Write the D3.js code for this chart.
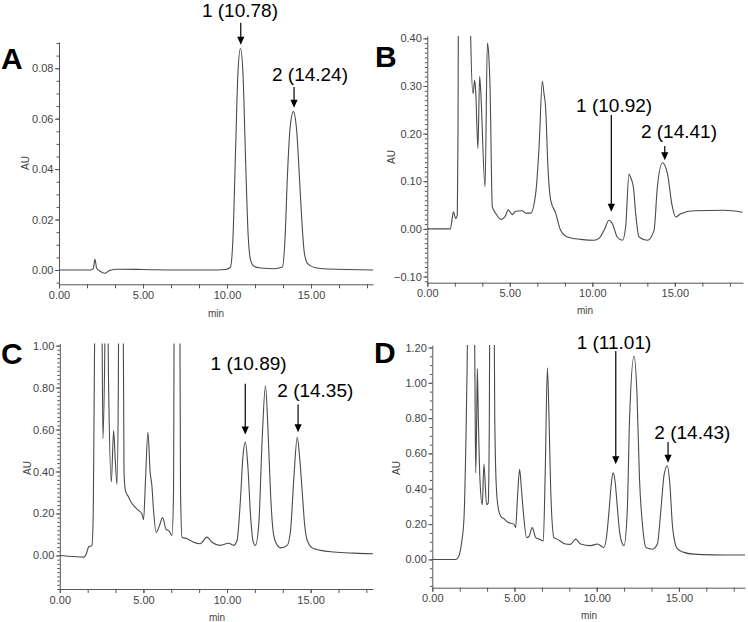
<!DOCTYPE html>
<html><head><meta charset="utf-8">
<script src="https://cdn.jsdelivr.net/npm/d3@7"></script>
<style>
body{margin:0;background:#fff}
svg{display:block}
text{font-family:"Liberation Sans",Arial,Helvetica,sans-serif}
</style>
</head><body>
<svg id="chart" width="748" height="622"></svg>
<script>
// ---- data: [time (min), absorbance (AU)] ----
const traceA = [[0,0],[1.9,0],[2.04,0.0005],[2.14,0.0042],[2.24,0.0008],[2.45,-0.0005],[2.74,-0.0013],[3.0,-0.0002],[3.5,0.0003],[5,0.0002],[7,0],[9,0],[9.9,0.0002],[10.2,0.001],[10.35,0.012],[10.5,0.045],[10.65,0.078],[10.8,0.0878],[10.95,0.078],[11.1,0.045],[11.25,0.015],[11.4,0.004],[11.6,0.0015],[12,0.0008],[12.8,0.0005],[13.3,0.0012],[13.45,0.012],[13.6,0.038],[13.75,0.056],[13.95,0.0628],[14.15,0.055],[14.3,0.038],[14.45,0.02],[14.6,0.007],[14.8,0.0025],[15.2,0.001],[16,0.0004],[18.7,0]];

const traceB = [[0,0],[1.4,0],[1.5,0.02],[1.58,0.036],[1.72,0.022],[1.82,0.03],[1.86,0.2],[1.9,0.6],[2.6,0.6],[2.63,0.40],[2.77,0.284],[2.87,0.312],[2.93,0.29],[3.07,0.169],[3.17,0.32],[3.23,0.294],[3.5,0.088],[3.64,0.39],[3.74,0.355],[3.8,0.3],[3.94,0.046],[4.14,0.033],[4.45,0.02],[4.7,0.025],[4.91,0.04],[5.15,0.03],[5.35,0.037],[5.76,0.038],[5.96,0.033],[6.26,0.033],[6.57,0.075],[6.77,0.17],[6.97,0.31],[7.07,0.284],[7.17,0.255],[7.31,0.13],[7.48,0.06],[7.78,0.033],[8.08,-0.003],[8.49,-0.017],[9.29,-0.022],[10.1,-0.024],[10.4,-0.02],[10.71,-0.003],[11.01,0.018],[11.21,0.011],[11.51,-0.017],[11.82,-0.024],[12.02,0.004],[12.22,0.115],[12.32,0.108],[12.49,0.087],[12.63,0.031],[12.83,-0.017],[13.34,-0.024],[13.74,-0.003],[13.94,0.088],[14.25,0.139],[14.55,0.116],[14.85,0.046],[15.05,0.025],[15.36,0.032],[16.17,0.038],[17.98,0.039],[19.1,0.035]];

const traceC = [[0,0],[0.8,-0.005],[1.45,-0.008],[1.6,0.01],[1.72,0.04],[1.92,0.047],[2.0,0.2],[2.06,0.8],[2.12,1.3],[2.5,1.3],[2.58,0.556],[2.68,0.9],[2.74,1.3],[2.84,1.3],[2.92,0.8],[3.08,0.35],[3.22,0.595],[3.32,0.45],[3.42,0.34],[3.5,0.8],[3.53,1.3],[3.78,1.3],[3.84,0.4],[3.92,0.31],[4.1,0.28],[4.3,0.25],[4.5,0.23],[4.7,0.215],[4.9,0.2],[5.01,0.17],[5.12,0.35],[5.27,0.587],[5.4,0.4],[5.51,0.33],[5.6,0.22],[5.77,0.11],[5.95,0.14],[6.15,0.18],[6.35,0.125],[6.55,0.115],[6.71,0.095],[6.8,0.3],[6.85,1.3],[7.17,1.3],[7.22,0.3],[7.31,0.087],[7.61,0.08],[8.0,0.063],[8.4,0.056],[8.8,0.087],[9.1,0.063],[9.6,0.048],[10.1,0.058],[10.4,0.048],[10.6,0.071],[10.8,0.262],[10.95,0.47],[11.1,0.54],[11.25,0.42],[11.4,0.2],[11.55,0.071],[11.7,0.048],[11.9,0.15],[12.1,0.55],[12.3,0.808],[12.45,0.6],[12.6,0.3],[12.75,0.12],[12.9,0.065],[13.2,0.036],[13.6,0.048],[13.8,0.12],[14.0,0.373],[14.2,0.563],[14.35,0.46],[14.5,0.3],[14.65,0.14],[14.8,0.071],[15.1,0.036],[15.6,0.024],[16.4,0.016],[17.6,0.011],[18.75,0.008]];

const traceD = [[0,0],[1.4,0],[1.52,0.005],[1.62,0.02],[1.77,0.087],[1.93,0.237],[2.05,0.7],[2.12,1.1],[2.17,1.5],[2.5,1.5],[2.58,1.2],[2.64,0.49],[2.7,0.8],[2.74,1.08],[2.8,0.8],[2.9,0.45],[3.04,0.31],[3.14,0.54],[3.3,0.31],[3.4,0.32],[3.47,0.8],[3.5,1.5],[3.75,1.5],[3.8,0.8],[3.9,0.40],[4.03,0.28],[4.2,0.24],[4.36,0.23],[4.6,0.21],[4.97,0.2],[5.07,0.18],[5.18,0.35],[5.31,0.51],[5.42,0.4],[5.53,0.275],[5.74,0.124],[5.88,0.13],[6.08,0.18],[6.29,0.124],[6.5,0.115],[6.75,0.105],[6.87,0.5],[7.0,1.085],[7.1,0.8],[7.2,0.40],[7.4,0.124],[7.6,0.115],[8.1,0.087],[8.4,0.085],[8.72,0.115],[9.02,0.087],[9.63,0.078],[10.04,0.087],[10.44,0.068],[10.6,0.13],[10.75,0.275],[10.9,0.44],[11.0,0.49],[11.12,0.44],[11.25,0.3],[11.4,0.15],[11.55,0.09],[11.66,0.078],[11.86,0.275],[12.0,0.8],[12.27,1.151],[12.45,0.935],[12.6,0.463],[12.8,0.18],[13.0,0.068],[13.4,0.058],[13.69,0.087],[13.9,0.275],[14.1,0.48],[14.3,0.53],[14.45,0.425],[14.6,0.2],[14.8,0.08],[14.94,0.058],[15.3,0.04],[15.9,0.03],[17.1,0.026],[19.1,0.025]];

// peak annotations: label, arrow time, arrow tail & tip (AU), label position (time, AU)
const notesA = [
  {label:"1 (10.78)", t:10.82, tail:0.098, tip:0.0893, tx:10.77, ty:0.103},
  {label:"2 (14.24)", t:13.99, tail:0.0726, tip:0.0643, tx:14.94, ty:0.0774}
];
const notesB = [
  {label:"1 (10.92)", t:11.15, tail:0.239, tip:0.036, tx:11.32, ty:0.26},
  {label:"2 (14.41)", t:14.39, tail:0.174, tip:0.144, tx:15.25, ty:0.204}
];
const notesC = [
  {label:"1 (10.89)", t:11.09, tail:0.818, tip:0.576, tx:11.29, ty:0.913},
  {label:"2 (14.35)", t:14.25, tail:0.719, tip:0.587, tx:15.28, ty:0.786}
];
const notesD = [
  {label:"1 (11.01)", t:11.16, tail:1.18, tip:0.539, tx:11.05, ty:1.227},
  {label:"2 (14.43)", t:14.34, tail:0.665, tip:0.548, tx:15.82, ty:0.718}
];

// axis tick values
const xTickLabels = [0, 5, 10, 15];
const yTicksA = [0, 0.02, 0.04, 0.06, 0.08];
const yTicksB = [-0.10, 0, 0.10, 0.20, 0.30, 0.40];
const yTicksC = [0, 0.20, 0.40, 0.60, 0.80, 1.00];
const yTicksD = [0, 0.20, 0.40, 0.60, 0.80, 1.00, 1.20];

// ---- layout ----
const panels = [
  {letter:"A", trace:traceA, notes:notesA, yTicks:yTicksA, minor:0.005,
   box:{l:59, t:42, r:373, b:284.3}, xMax:18.69, yDom:[-0.00567, 0.0904],
   letterPos:[1,68.5], auPos:[25,163], minPos:[216,313]},
  {letter:"B", trace:traceB, notes:notesB, yTicks:yTicksB, minor:0.01,
   box:{l:427.3, t:36, r:743, b:282.7}, xMax:19.13, yDom:[-0.113, 0.405],
   letterPos:[375,67], auPos:[391,157], minPos:[585,310]},
  {letter:"C", trace:traceC, notes:notesC, yTicks:yTicksC, minor:0.02,
   box:{l:59.8, t:343.5, r:373, b:589}, xMax:18.73, yDom:[-0.16, 1.01],
   letterPos:[1,364], auPos:[27,468], minPos:[217,617]},
  {letter:"D", trace:traceD, notes:notesD, yTicks:yTicksD, minor:0.05,
   box:{l:432.3, t:345, r:745, b:587.7}, xMax:19.02, yDom:[-0.16, 1.214],
   letterPos:[374,363], auPos:[396,468], minPos:[589,615]}
];

const svg = d3.select("#chart");
const axisColor = "#555";
const fmt = d3.format(".2f");

panels.forEach((p, i) => {
  const b = p.box;
  const x = d3.scaleLinear().domain([0, p.xMax]).range([b.l, b.r]);
  const y = d3.scaleLinear().domain(p.yDom).range([b.b, b.t]);
  const g = svg.append("g");

  // clip
  const cid = "clip" + i;
  svg.append("clipPath").attr("id", cid).append("rect")
    .attr("x", b.l).attr("y", b.t).attr("width", b.r - b.l).attr("height", b.b - b.t);

  // x axis: ticks every 5/3 min, labels at 0,5,10,15
  const xMinor = d3.range(0, p.xMax + 1e-6, 5/3);
  const xa = g.append("g").attr("transform", `translate(0,${b.b})`)
    .call(d3.axisBottom(x).tickValues(xMinor).tickSize(4).tickSizeOuter(0).tickFormat(""));
  xa.select(".domain").attr("stroke", axisColor);
  xa.selectAll(".tick line").attr("stroke", axisColor);
  const xl = g.append("g").attr("transform", `translate(0,${b.b})`)
    .call(d3.axisBottom(x).tickValues(xTickLabels).tickSize(4).tickSizeOuter(0).tickPadding(3).tickFormat(fmt));
  xl.select(".domain").remove();
  xl.selectAll(".tick line").attr("stroke", axisColor);
  xl.selectAll("text").attr("font-size", 11).attr("fill", "#444").attr("font-family", '"Liberation Sans",Arial,sans-serif');

  // y axis: minor + labelled
  const lo = Math.ceil(p.yDom[0] / p.minor - 1e-6) * p.minor;
  const yMinor = d3.range(lo, p.yDom[1] + 1e-9, p.minor);
  const ya = g.append("g").attr("transform", `translate(${b.l},0)`)
    .call(d3.axisLeft(y).tickValues(yMinor).tickSize(2.5).tickSizeOuter(0).tickFormat(""));
  ya.select(".domain").attr("stroke", axisColor);
  ya.selectAll(".tick line").attr("stroke", axisColor);
  const yl = g.append("g").attr("transform", `translate(${b.l},0)`)
    .call(d3.axisLeft(y).tickValues(p.yTicks).tickSize(4).tickSizeOuter(0).tickPadding(1.5).tickFormat(fmt));
  yl.select(".domain").remove();
  yl.selectAll(".tick line").attr("stroke", axisColor);
  yl.selectAll("text").attr("font-size", 11).attr("fill", "#444").attr("font-family", '"Liberation Sans",Arial,sans-serif');

  // axis titles
  g.append("text").attr("transform", `translate(${p.auPos[0]},${p.auPos[1]}) rotate(-90)`)
    .attr("text-anchor", "middle").attr("dominant-baseline", "central")
    .attr("font-size", 10).attr("fill", "#444").text("AU");
  g.append("text").attr("x", p.minPos[0]).attr("y", p.minPos[1])
    .attr("text-anchor", "middle").attr("dominant-baseline", "central")
    .attr("font-size", 10).attr("fill", "#444").text("min");

  // trace
  const line = d3.line().x(d => x(d[0])).y(d => y(d[1])).curve(d3.curveMonotoneX);
  g.append("path").datum(p.trace).attr("clip-path", `url(#${cid})`)
    .attr("d", line).attr("fill", "none").attr("stroke", "#4a4a4a").attr("stroke-width", 1.1)
    .attr("stroke-linejoin", "round");

  // panel letter
  g.append("text").attr("x", p.letterPos[0]).attr("y", p.letterPos[1])
    .attr("font-size", 30).attr("font-weight", "bold").attr("fill", "#000").text(p.letter);

  // annotations
  p.notes.forEach(n => {
    const ax = x(n.t), y0 = y(n.tail), y1 = y(n.tip);
    g.append("line").attr("x1", ax).attr("x2", ax).attr("y1", y0).attr("y2", y1 - 6)
      .attr("stroke", "#000").attr("stroke-width", 1.2);
    g.append("path").attr("d", `M${ax - 3.6},${y1 - 8}L${ax + 3.6},${y1 - 8}L${ax},${y1}Z`).attr("fill", "#000");
    g.append("text").attr("x", x(n.tx)).attr("y", y(n.ty))
      .attr("text-anchor", "middle").attr("dominant-baseline", "central")
      .attr("font-size", 19).attr("fill", "#000").text(n.label);
  });
});
</script>
</body></html>
